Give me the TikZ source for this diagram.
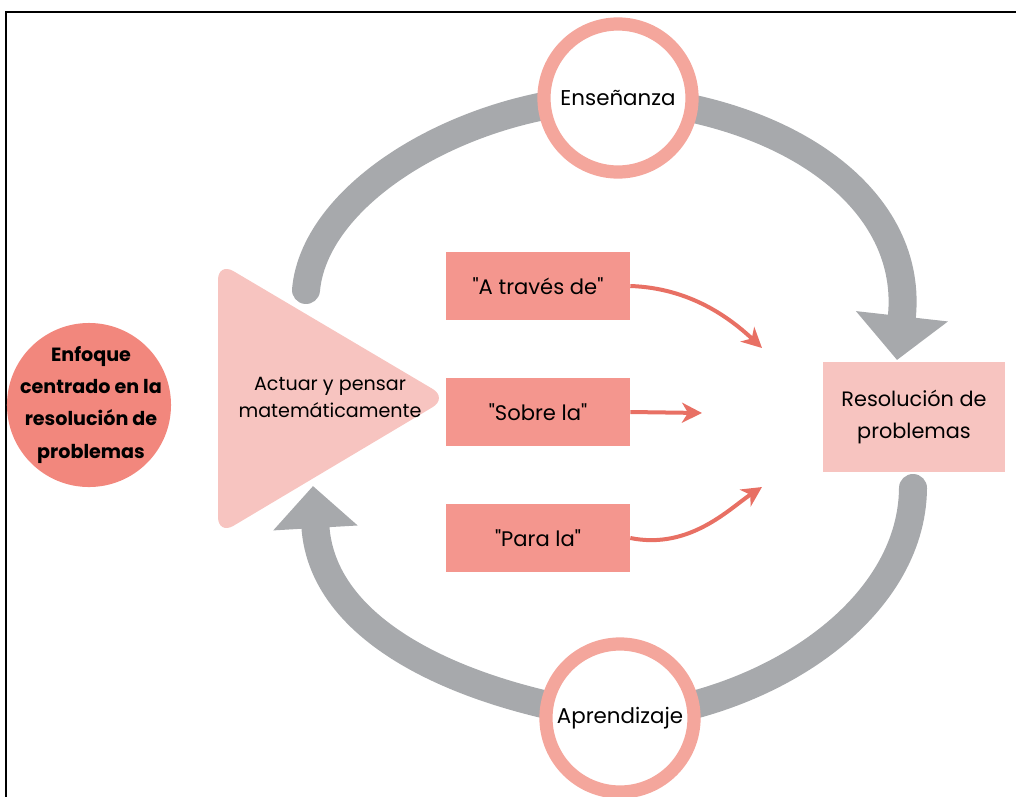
\documentclass[tikz,border=0pt]{standalone}
\usepackage{fontspec}
\setmainfont{Poppins}[Ligatures=TeXOff]
\usetikzlibrary{arrows.meta}
\definecolor{salmon}{HTML}{F2877D}
\definecolor{lightpink}{HTML}{F7C4C0}
\definecolor{boxpink}{HTML}{F4968E}
\definecolor{ringpink}{HTML}{F4A69C}
\definecolor{arcgray}{HTML}{A7A9AC}
\definecolor{arrowred}{HTML}{E87064}
\begin{document}
\begin{tikzpicture}[x=0.025cm, y=-0.025cm,
	ring/.style={circle, draw=ringpink, line width=0.33cm, fill=white, minimum size=3.7cm, font=\fontsize{15.2}{18}\selectfont},
	wordbox/.style={fill=boxpink, minimum width=4.6cm, minimum height=1.68cm, font=\fontsize{15}{18}\selectfont},
	grayarc/.style={arcgray, line width=0.7cm},
	redarrow/.style={arrowred, line width=0.1cm, -{Stealth[length=0.5cm, width=0.5cm, inset=0.15cm]}}]
		\useasboundingbox (0,0) rectangle (1016,796);
		\draw[line width=0.065cm] (6,820) -- (6,12) -- (1030,12);
		% centres of the two rings
		\coordinate (ensc) at (618,98);
		\coordinate (aprc) at (620,718);
		\coordinate (g1) at (306,290);
		\coordinate (g2) at (897,360);
		\coordinate (g3) at (913,488);
		\coordinate (g4) at (313,486);
		% gray cycle
		\draw[grayarc, line cap=round] (g1) .. controls (315,190) and (470,100) .. (ensc);
		\draw[grayarc, -{Triangle[width=2.25cm, length=1.1cm]}] (ensc) .. controls (790,110) and (915,200) .. (g2);
		\draw[grayarc, line cap=round] (g3) .. controls (912,610) and (770,705) .. (aprc);
		\draw[grayarc, -{Triangle[width=2.05cm, length=1.05cm]}] (aprc) .. controls (480,700) and (322,640) .. (g4);
		\node[ring] (ens) at (ensc) {Enseñanza};
		\node[ring] (apr) at (aprc) {Aprendizaje};
		% left side
		\node[circle, fill=salmon, minimum size=4.1cm] (enfc) at (89,405) {};
		\node[align=center, font=\bfseries\fontsize{13.6}{22.8}\selectfont] (enf) at (91,405) {Enfoque\\centrado en la\\resolución de\\problemas};
		\fill[lightpink, rounded corners=0.45cm] (218,262) -- (448,398) -- (218,535) -- cycle;
		\node[align=center, font=\fontsize{13.6}{19.2}\selectfont] (act) at (330,397) {Actuar y pensar\\matemáticamente};
		% boxes
		\node[wordbox] (ta) at (538,286) {"A través de"};
		\node[wordbox] (tb) at (538,412) {"Sobre la"};
		\node[wordbox] (tc) at (538,538) {"Para la"};
		\node[fill=lightpink, minimum width=4.55cm, minimum height=2.75cm, align=center, font=\fontsize{14.8}{22.8}\selectfont] (res) at (914,417) {Resolución de\\problemas};
		\coordinate (r1) at (762,348);
		\coordinate (r2) at (702,413);
		\coordinate (r3) at (762,487);
		\draw[redarrow] (ta.east) .. controls (690,288) and (730,318) .. (r1);
		\draw[redarrow] (tb.east) -- (r2);
		\draw[redarrow] (tc.east) .. controls (690,550) and (730,508) .. (r3);
\end{tikzpicture}
\end{document}
